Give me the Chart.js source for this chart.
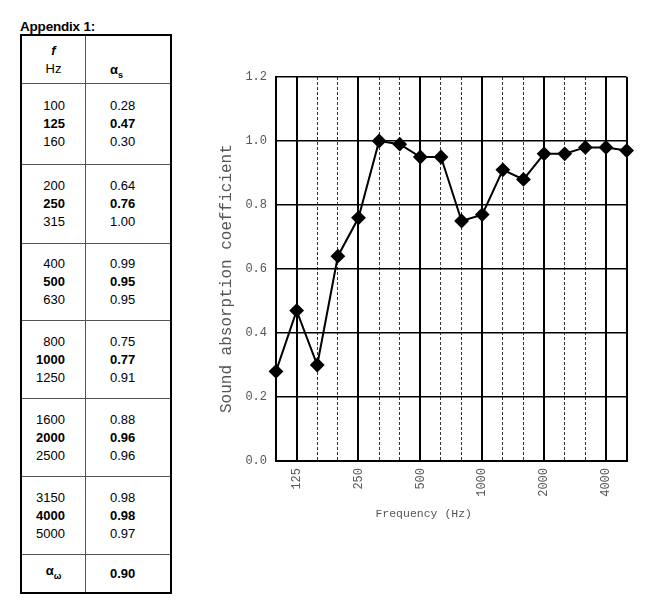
<!DOCTYPE html>
<html lang="en">
<head>
    <meta charset="UTF-8">
    <title>Sound absorption coefficient</title>
    <style>
        body { margin: 0; background: #fff; font-family: "Liberation Sans", Arial, sans-serif; color: #000; }
        #caption { position: absolute; left: 20px; top: 20px; font-size: 13.5px; line-height: 14px; font-weight: bold; letter-spacing: -0.2px; }
        /* таблиця з абсолютними рядками */
        #data-table { position: absolute; left: 20px; top: 34px; width: 152px; height: 560px; box-sizing: border-box;
                      border: 2px solid #000; font-size: 13px; line-height: 18px; }
        #data-table .row { position: absolute; left: 0; right: 0; display: flex; border-top: 1px solid #555; box-sizing: border-box; }
        #data-table .row.first { border-top: none; }
        #data-table .c1 { width: 64px; box-sizing: border-box; border-right: 1px solid #555; display: flex;
                          flex-direction: column; justify-content: center; align-items: flex-end; padding-right: 20px; }
        #data-table .c2 { flex: 1; display: flex; flex-direction: column; justify-content: center; padding-left: 24px; }
        #data-table .centered { align-items: center; padding-right: 0; }
        sub { font-size: 9px; }
        #chart-container { position: absolute; left: 200px; top: 60px; width: 448px; height: 480px; }
    </style>
</head>
<body>
    <div id="caption">Appendix 1:</div>
    <div id="data-table"></div>

    <div id="chart-container">
        <canvas id="absorption-chart"></canvas>
    </div>

    <script src="https://cdn.jsdelivr.net/npm/chart.js"></script>
    <script>
        // третьоктавні частоти, Гц
        const frequencies = ['100', '125', '160', '200', '250', '315', '400', '500', '630',
                             '800', '1000', '1250', '1600', '2000', '2500', '3150', '4000', '5000'];
        // коефіцієнт звукопоглинання αs
        const absorption = [0.28, 0.47, 0.30, 0.64, 0.76, 1.00, 0.99, 0.95, 0.95,
                            0.75, 0.77, 0.91, 0.88, 0.96, 0.96, 0.98, 0.98, 0.97];
        // підписи октав на осі X
        const octaveLabels = ['125', '250', '500', '1000', '2000', '4000'];
        const yTickLabels = ['0.0', '0.2', '0.4', '0.6', '0.8', '1.0', '1.2'];
        const weightedAlpha = '0.90';

        // межі рядків таблиці (px від верху рамки)
        const rowEdges = [0, 47, 128, 207, 284, 362, 440, 518, 556];

        const table = document.getElementById('data-table');
        const cells = [];
        cells.push(['<div class="c1 centered" style="justify-content:flex-start;padding-top:6px"><b><i>f</i></b>Hz</div>',
                    '<div class="c2" style="justify-content:flex-start;padding-top:25px"><b>&alpha;<sub>s</sub></b></div>']);
        for (let g = 0; g < frequencies.length; g += 3) {
            const fs = frequencies.slice(g, g + 3);
            const as = absorption.slice(g, g + 3).map(v => v.toFixed(2));
            cells.push(['<div class="c1"><span>' + fs[0] + '</span><b>' + fs[1] + '</b><span>' + fs[2] + '</span></div>',
                        '<div class="c2"><span>' + as[0] + '</span><b>' + as[1] + '</b><span>' + as[2] + '</span></div>']);
        }
        cells.push(['<div class="c1 centered"><b>&alpha;<sub>&omega;</sub></b></div>',
                    '<div class="c2"><b>' + weightedAlpha + '</b></div>']);
        let html = '';
        cells.forEach((c, i) => {
            html += '<div class="row' + (i === 0 ? ' first' : '') + '" style="top:' + rowEdges[i] + 'px;height:' +
                    (rowEdges[i + 1] - rowEdges[i]) + 'px">' + c[0] + c[1] + '</div>';
        });
        table.innerHTML = html;

        const isOctave = (i) => octaveLabels.includes(frequencies[i]);
        const isEdge = (i) => i === 0 || i === frequencies.length - 1;
        const serif = { family: '"Liberation Mono", "DejaVu Sans Mono", monospace', size: 12 };

        const ctx = document.getElementById('absorption-chart').getContext('2d');
        const chart = new Chart(ctx, {
            type: 'line',
            data: {
                labels: frequencies,
                datasets: [{
                    data: absorption,
                    borderColor: '#000',
                    borderWidth: 2,
                    pointStyle: 'rectRot',
                    pointRadius: 6,
                    pointBackgroundColor: '#000',
                    pointBorderColor: '#000',
                    tension: 0,
                    clip: false
                }]
            },
            options: {
                responsive: true,
                maintainAspectRatio: false,
                animation: false,
                events: [],
                layout: { padding: { top: 17, right: 0, left: 17, bottom: 19 } },
                plugins: { legend: { display: false }, tooltip: { enabled: false } },
                scales: {
                    x: {
                        offset: false,
                        grid: {
                            drawTicks: false,
                            color: (c) => (isOctave(c.index) || isEdge(c.index)) ? '#000' : '#333',
                            lineWidth: (c) => (isOctave(c.index) || isEdge(c.index)) ? 2 : 1
                        },
                        border: {
                            color: '#000',
                            width: 2,
                            dash: (c) => (c.index === undefined || isOctave(c.index) || isEdge(c.index)) ? [] : [3, 2]
                        },
                        ticks: {
                            autoSkip: false,
                            minRotation: 90,
                            maxRotation: 90,
                            padding: 7,
                            color: '#555',
                            font: serif,
                            callback: (v, i) => isOctave(i) ? frequencies[i] : ''
                        },
                        title: {
                            display: true,
                            text: 'Frequency (Hz)        ',
                            color: '#555',
                            font: { family: serif.family, size: 11.5 },
                            padding: 0
                        },
                        afterFit: (s) => { s.height = 60; }
                    },
                    y: {
                        min: 0,
                        max: 1.2,
                        grid: {
                            drawTicks: false,
                            color: '#000',
                            lineWidth: 1.5
                        },
                        border: { color: '#000', width: 2 },
                        ticks: {
                            stepSize: 0.2,
                            padding: 9,
                            color: '#555',
                            font: serif,
                            callback: (v, i) => yTickLabels[i]
                        },
                        title: {
                            display: true,
                            text: 'Sound absorption coefficient  ',
                            color: '#555',
                            font: { family: serif.family, size: 16 },
                            padding: 0
                        },
                        afterFit: (s) => { s.width = 59; }
                    }
                }
            }
        });
    </script>
</body>
</html>
